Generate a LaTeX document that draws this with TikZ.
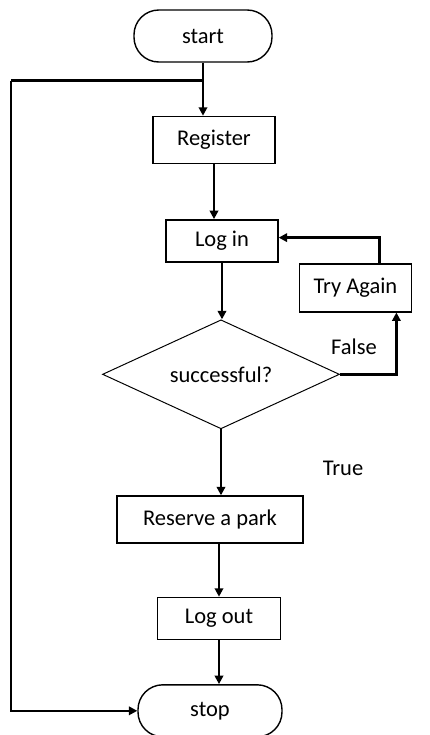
\documentclass[tikz,border=0pt]{standalone}
\usepackage{fontspec}
\setmainfont{Carlito}
\usepackage{tikz}
\usetikzlibrary{arrows.meta,positioning,shapes.geometric,calc}
\tikzset{
  flowbox/.style ={draw, line width=1pt, align=center,
                   font=\fontsize{16}{19}\selectfont, inner sep=2pt},
  termbox/.style ={flowbox, rounded corners=0.62cm,
                   minimum width=#1, minimum height=1.3cm},
  termbox/.default=3.45cm,
  procbox/.style ={flowbox, minimum width=#1, minimum height=1.175cm},
  procbox/.default=3.05cm,
  decbox/.style  ={flowbox, diamond, aspect=2.17, inner sep=0pt,
                   line width=0.7pt,
                   minimum width=5.925cm, minimum height=2.725cm},
  lbl/.style     ={font=\fontsize{16}{19}\selectfont, inner sep=1pt},
  arr/.style     ={-{Triangle[length=6pt,width=6pt]}, line width=1.8pt},
  ln/.style      ={line width=1.8pt},
}

\begin{document}
\begin{tikzpicture}[node distance=1.3cm]
  \useasboundingbox (-5.075,-17.475) rectangle (5.675,0.9);
  \node[termbox] (start) {start};
  \node[procbox, below=1.325cm of start, xshift=0.275cm] (reg) {Register};
  \node[procbox=2.8cm, minimum height=1.05cm, below=1.375cm of reg,
        xshift=0.2cm] (login) {Log in};
  \node[decbox, below=1.42cm of login, xshift=-0.025cm] (dec) {successful?};
  \node[procbox=2.8cm, minimum height=1.2cm, right=0.5cm of login,
        yshift=-1.175cm] (try) {Try Again};
  \node[procbox=4.65cm, below=1.65cm of dec, xshift=-0.275cm] (res) {Reserve a park};
  \node[procbox=3.075cm, minimum height=1.05cm, below=1.325cm of res,
        xshift=0.225cm] (logout) {Log out};
  \node[termbox=3.6cm, below=1.1cm of logout, xshift=-0.225cm] (stop) {stop};
  \node[lbl] (false) at ([xshift=0.35cm,yshift=0.7cm]dec.east) {False};
  \node[lbl] (true) at ([xshift=3.05cm,yshift=-2.35cm]dec.center) {True};
  % main line
  \coordinate (split) at ([yshift=-0.45cm]start.south);
  \coordinate (lft) at ([xshift=-4.8cm]split);
  \draw[arr](start.south) -- (start.south |- reg.north);
  \draw[ln](split) -- (lft);
  \draw[arr](lft) |- (stop.west);
  \draw[arr](reg.south) -- (reg.south |- login.north);
  \draw[arr](login.south) -- (login.south |- dec.north);
  % retry loop
  \draw[arr](dec.east) -| ([xshift=1.025cm]try.south);
  \draw[arr]([xshift=0.6cm]try.north) |- ([yshift=0.08cm]login.east);
  \draw[arr](dec.south) -- (dec.south |- res.north);
  \draw[arr](logout.north |- res.south) -- (logout.north);
  \draw[arr](logout.south) -- (logout.south |- stop.north);
\end{tikzpicture}
\end{document}
